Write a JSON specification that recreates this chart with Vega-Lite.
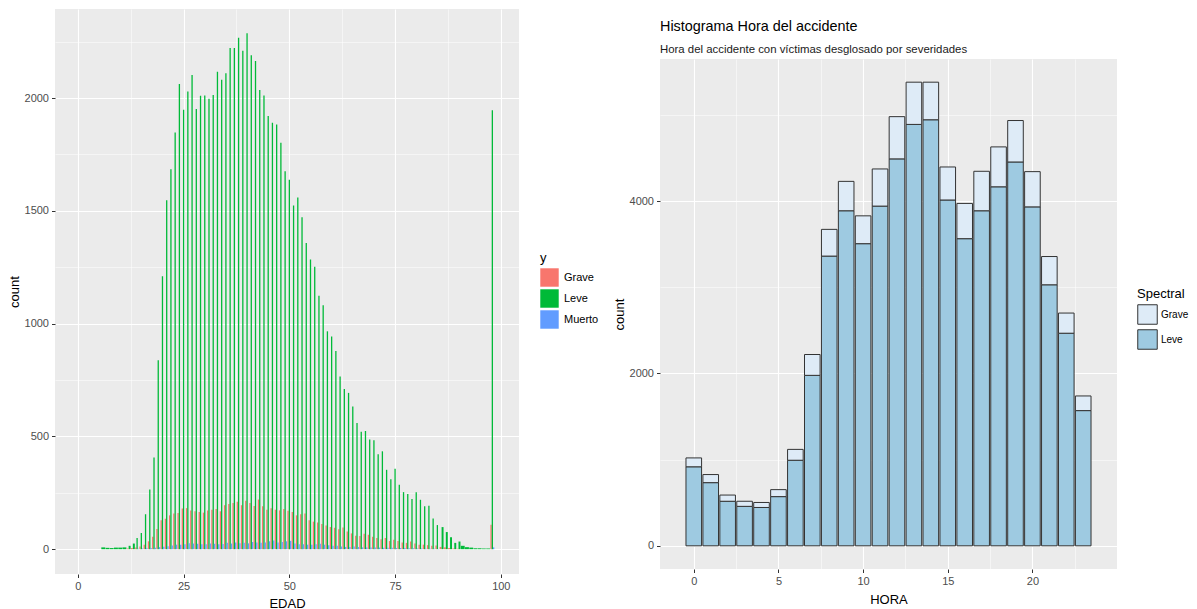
{
"$schema": "https://vega.github.io/schema/vega-lite/v6.json",
"background": "white",
"padding": {"left": 8, "top": 8, "right": 0, "bottom": 0},
"spacing": 14,
"config": {
  "font": "Liberation Sans",
  "view": {"fill": "#EBEBEB", "stroke": null},
  "axis": {"domain": false, "gridColor": "#FFFFFF", "labelColor": "#4D4D4D", "labelFontSize": 11, "titleFontSize": 13, "titleFontWeight": "normal", "titleColor": "#000000", "tickColor": "#333333", "tickSize": 3.5, "labelPadding": 3},
  "legend": {"titleFontWeight": "normal", "titleColor": "#000000", "labelColor": "#000000", "symbolType": "square", "symbolOpacity": 1},
  "title": {"fontSize": 14.4, "fontWeight": "normal", "color": "#000000", "subtitleFontSize": 11.4, "subtitleColor": "#1A1A1A", "subtitlePadding": 9, "anchor": "start", "frame": "group", "offset": 3, "lineHeight": 11}
},
"resolve": {"scale": {"color": "independent"}, "legend": {"color": "independent"}},
"datasets": {
"edad": [
{"EDAD":6,"y":"Leve","count":8},{"EDAD":7,"y":"Leve","count":6},{"EDAD":8,"y":"Leve","count":5},{"EDAD":9,"y":"Leve","count":7},{"EDAD":10,"y":"Leve","count":7},{"EDAD":11,"y":"Leve","count":8},{"EDAD":12,"y":"Leve","count":15},{"EDAD":13,"y":"Leve","count":25},{"EDAD":14,"y":"Leve","count":50},{"EDAD":15,"y":"Leve","count":72},{"EDAD":16,"y":"Leve","count":155},{"EDAD":17,"y":"Leve","count":265},{"EDAD":18,"y":"Leve","count":407},{"EDAD":19,"y":"Leve","count":838},{"EDAD":20,"y":"Leve","count":1210},{"EDAD":21,"y":"Leve","count":1547},{"EDAD":22,"y":"Leve","count":1685},{"EDAD":23,"y":"Leve","count":1848},{"EDAD":24,"y":"Leve","count":2062},{"EDAD":25,"y":"Leve","count":1948},{"EDAD":26,"y":"Leve","count":2029},{"EDAD":27,"y":"Leve","count":2102},{"EDAD":28,"y":"Leve","count":1952},{"EDAD":29,"y":"Leve","count":2010},{"EDAD":30,"y":"Leve","count":2012},{"EDAD":31,"y":"Leve","count":1997},{"EDAD":32,"y":"Leve","count":2014},{"EDAD":33,"y":"Leve","count":2117},{"EDAD":34,"y":"Leve","count":2081},{"EDAD":35,"y":"Leve","count":2110},{"EDAD":36,"y":"Leve","count":2222},{"EDAD":37,"y":"Leve","count":2222},{"EDAD":38,"y":"Leve","count":2267},{"EDAD":39,"y":"Leve","count":2210},{"EDAD":40,"y":"Leve","count":2288},{"EDAD":41,"y":"Leve","count":2190},{"EDAD":42,"y":"Leve","count":2164},{"EDAD":43,"y":"Leve","count":2036},{"EDAD":44,"y":"Leve","count":2012},{"EDAD":45,"y":"Leve","count":1921},{"EDAD":46,"y":"Leve","count":1891},{"EDAD":47,"y":"Leve","count":1883},{"EDAD":48,"y":"Leve","count":1802},{"EDAD":49,"y":"Leve","count":1676},{"EDAD":50,"y":"Leve","count":1638},{"EDAD":51,"y":"Leve","count":1524},{"EDAD":52,"y":"Leve","count":1559},{"EDAD":53,"y":"Leve","count":1472},{"EDAD":54,"y":"Leve","count":1357},{"EDAD":55,"y":"Leve","count":1284},{"EDAD":56,"y":"Leve","count":1252},{"EDAD":57,"y":"Leve","count":1124},{"EDAD":58,"y":"Leve","count":1081},{"EDAD":59,"y":"Leve","count":966},{"EDAD":60,"y":"Leve","count":943},{"EDAD":61,"y":"Leve","count":879},{"EDAD":62,"y":"Leve","count":766},{"EDAD":63,"y":"Leve","count":710},{"EDAD":64,"y":"Leve","count":693},{"EDAD":65,"y":"Leve","count":633},{"EDAD":66,"y":"Leve","count":559},{"EDAD":67,"y":"Leve","count":521},{"EDAD":68,"y":"Leve","count":524},{"EDAD":69,"y":"Leve","count":486},{"EDAD":70,"y":"Leve","count":483},{"EDAD":71,"y":"Leve","count":421},{"EDAD":72,"y":"Leve","count":434},{"EDAD":73,"y":"Leve","count":352},{"EDAD":74,"y":"Leve","count":310},{"EDAD":75,"y":"Leve","count":357},{"EDAD":76,"y":"Leve","count":286},{"EDAD":77,"y":"Leve","count":253},{"EDAD":78,"y":"Leve","count":245},{"EDAD":79,"y":"Leve","count":222},{"EDAD":80,"y":"Leve","count":253},{"EDAD":81,"y":"Leve","count":219},{"EDAD":82,"y":"Leve","count":190},{"EDAD":83,"y":"Leve","count":193},{"EDAD":84,"y":"Leve","count":136},{"EDAD":85,"y":"Leve","count":107},{"EDAD":86,"y":"Leve","count":98},{"EDAD":87,"y":"Leve","count":76},{"EDAD":88,"y":"Leve","count":53},{"EDAD":89,"y":"Leve","count":28},{"EDAD":90,"y":"Leve","count":34},{"EDAD":91,"y":"Leve","count":15},{"EDAD":92,"y":"Leve","count":9},{"EDAD":93,"y":"Leve","count":7},{"EDAD":94,"y":"Leve","count":4},{"EDAD":95,"y":"Leve","count":4},{"EDAD":96,"y":"Leve","count":3},{"EDAD":97,"y":"Leve","count":3},{"EDAD":98,"y":"Leve","count":1946},
{"EDAD":12,"y":"Grave","count":3},{"EDAD":13,"y":"Grave","count":5},{"EDAD":14,"y":"Grave","count":8},{"EDAD":15,"y":"Grave","count":12},{"EDAD":16,"y":"Grave","count":20},{"EDAD":17,"y":"Grave","count":35},{"EDAD":18,"y":"Grave","count":55},{"EDAD":19,"y":"Grave","count":90},{"EDAD":20,"y":"Grave","count":128},{"EDAD":21,"y":"Grave","count":135},{"EDAD":22,"y":"Grave","count":150},{"EDAD":23,"y":"Grave","count":158},{"EDAD":24,"y":"Grave","count":160},{"EDAD":25,"y":"Grave","count":180},{"EDAD":26,"y":"Grave","count":182},{"EDAD":27,"y":"Grave","count":172},{"EDAD":28,"y":"Grave","count":168},{"EDAD":29,"y":"Grave","count":165},{"EDAD":30,"y":"Grave","count":162},{"EDAD":31,"y":"Grave","count":172},{"EDAD":32,"y":"Grave","count":175},{"EDAD":33,"y":"Grave","count":178},{"EDAD":34,"y":"Grave","count":168},{"EDAD":35,"y":"Grave","count":195},{"EDAD":36,"y":"Grave","count":200},{"EDAD":37,"y":"Grave","count":205},{"EDAD":38,"y":"Grave","count":210},{"EDAD":39,"y":"Grave","count":195},{"EDAD":40,"y":"Grave","count":215},{"EDAD":41,"y":"Grave","count":205},{"EDAD":42,"y":"Grave","count":192},{"EDAD":43,"y":"Grave","count":220},{"EDAD":44,"y":"Grave","count":190},{"EDAD":45,"y":"Grave","count":175},{"EDAD":46,"y":"Grave","count":182},{"EDAD":47,"y":"Grave","count":175},{"EDAD":48,"y":"Grave","count":172},{"EDAD":49,"y":"Grave","count":178},{"EDAD":50,"y":"Grave","count":170},{"EDAD":51,"y":"Grave","count":165},{"EDAD":52,"y":"Grave","count":150},{"EDAD":53,"y":"Grave","count":155},{"EDAD":54,"y":"Grave","count":158},{"EDAD":55,"y":"Grave","count":128},{"EDAD":56,"y":"Grave","count":122},{"EDAD":57,"y":"Grave","count":118},{"EDAD":58,"y":"Grave","count":112},{"EDAD":59,"y":"Grave","count":105},{"EDAD":60,"y":"Grave","count":98},{"EDAD":61,"y":"Grave","count":95},{"EDAD":62,"y":"Grave","count":88},{"EDAD":63,"y":"Grave","count":96},{"EDAD":64,"y":"Grave","count":78},{"EDAD":65,"y":"Grave","count":70},{"EDAD":66,"y":"Grave","count":60},{"EDAD":67,"y":"Grave","count":58},{"EDAD":68,"y":"Grave","count":68},{"EDAD":69,"y":"Grave","count":64},{"EDAD":70,"y":"Grave","count":55},{"EDAD":71,"y":"Grave","count":50},{"EDAD":72,"y":"Grave","count":44},{"EDAD":73,"y":"Grave","count":50},{"EDAD":74,"y":"Grave","count":36},{"EDAD":75,"y":"Grave","count":42},{"EDAD":76,"y":"Grave","count":36},{"EDAD":77,"y":"Grave","count":30},{"EDAD":78,"y":"Grave","count":28},{"EDAD":79,"y":"Grave","count":34},{"EDAD":80,"y":"Grave","count":25},{"EDAD":81,"y":"Grave","count":20},{"EDAD":82,"y":"Grave","count":20},{"EDAD":83,"y":"Grave","count":18},{"EDAD":84,"y":"Grave","count":15},{"EDAD":85,"y":"Grave","count":16},{"EDAD":86,"y":"Grave","count":10},{"EDAD":87,"y":"Grave","count":8},{"EDAD":88,"y":"Grave","count":5},{"EDAD":89,"y":"Grave","count":3},{"EDAD":90,"y":"Grave","count":2},{"EDAD":98,"y":"Grave","count":108},
{"EDAD":14,"y":"Muerto","count":2},{"EDAD":15,"y":"Muerto","count":3},{"EDAD":16,"y":"Muerto","count":4},{"EDAD":17,"y":"Muerto","count":5},{"EDAD":18,"y":"Muerto","count":6},{"EDAD":19,"y":"Muerto","count":9},{"EDAD":20,"y":"Muerto","count":11},{"EDAD":21,"y":"Muerto","count":13},{"EDAD":22,"y":"Muerto","count":16},{"EDAD":23,"y":"Muerto","count":20},{"EDAD":24,"y":"Muerto","count":20},{"EDAD":25,"y":"Muerto","count":22},{"EDAD":26,"y":"Muerto","count":26},{"EDAD":27,"y":"Muerto","count":25},{"EDAD":28,"y":"Muerto","count":24},{"EDAD":29,"y":"Muerto","count":22},{"EDAD":30,"y":"Muerto","count":22},{"EDAD":31,"y":"Muerto","count":25},{"EDAD":32,"y":"Muerto","count":24},{"EDAD":33,"y":"Muerto","count":22},{"EDAD":34,"y":"Muerto","count":23},{"EDAD":35,"y":"Muerto","count":28},{"EDAD":36,"y":"Muerto","count":25},{"EDAD":37,"y":"Muerto","count":30},{"EDAD":38,"y":"Muerto","count":26},{"EDAD":39,"y":"Muerto","count":28},{"EDAD":40,"y":"Muerto","count":26},{"EDAD":41,"y":"Muerto","count":32},{"EDAD":42,"y":"Muerto","count":30},{"EDAD":43,"y":"Muerto","count":28},{"EDAD":44,"y":"Muerto","count":30},{"EDAD":45,"y":"Muerto","count":35},{"EDAD":46,"y":"Muerto","count":38},{"EDAD":47,"y":"Muerto","count":30},{"EDAD":48,"y":"Muerto","count":32},{"EDAD":49,"y":"Muerto","count":35},{"EDAD":50,"y":"Muerto","count":37},{"EDAD":51,"y":"Muerto","count":25},{"EDAD":52,"y":"Muerto","count":22},{"EDAD":53,"y":"Muerto","count":22},{"EDAD":54,"y":"Muerto","count":20},{"EDAD":55,"y":"Muerto","count":20},{"EDAD":56,"y":"Muerto","count":22},{"EDAD":57,"y":"Muerto","count":24},{"EDAD":58,"y":"Muerto","count":20},{"EDAD":59,"y":"Muerto","count":18},{"EDAD":60,"y":"Muerto","count":15},{"EDAD":61,"y":"Muerto","count":15},{"EDAD":62,"y":"Muerto","count":12},{"EDAD":63,"y":"Muerto","count":10},{"EDAD":64,"y":"Muerto","count":10},{"EDAD":65,"y":"Muerto","count":12},{"EDAD":66,"y":"Muerto","count":10},{"EDAD":67,"y":"Muerto","count":8},{"EDAD":68,"y":"Muerto","count":8},{"EDAD":69,"y":"Muerto","count":8},{"EDAD":70,"y":"Muerto","count":8},{"EDAD":71,"y":"Muerto","count":7},{"EDAD":72,"y":"Muerto","count":6},{"EDAD":73,"y":"Muerto","count":6},{"EDAD":74,"y":"Muerto","count":6},{"EDAD":75,"y":"Muerto","count":5},{"EDAD":76,"y":"Muerto","count":5},{"EDAD":77,"y":"Muerto","count":5},{"EDAD":78,"y":"Muerto","count":4},{"EDAD":79,"y":"Muerto","count":4},{"EDAD":80,"y":"Muerto","count":3},{"EDAD":81,"y":"Muerto","count":3},{"EDAD":82,"y":"Muerto","count":2},{"EDAD":83,"y":"Muerto","count":2},{"EDAD":84,"y":"Muerto","count":2},{"EDAD":85,"y":"Muerto","count":1},{"EDAD":98,"y":"Muerto","count":8}
],
"hora": [
{"HORA":0,"y":"Leve","count":917},{"HORA":0,"y":"Grave","count":103},
{"HORA":1,"y":"Leve","count":733},{"HORA":1,"y":"Grave","count":94},
{"HORA":2,"y":"Leve","count":517},{"HORA":2,"y":"Grave","count":72},
{"HORA":3,"y":"Leve","count":458},{"HORA":3,"y":"Grave","count":59},
{"HORA":4,"y":"Leve","count":445},{"HORA":4,"y":"Grave","count":58},
{"HORA":5,"y":"Leve","count":571},{"HORA":5,"y":"Grave","count":81},
{"HORA":6,"y":"Leve","count":993},{"HORA":6,"y":"Grave","count":126},
{"HORA":7,"y":"Leve","count":1978},{"HORA":7,"y":"Grave","count":242},
{"HORA":8,"y":"Leve","count":3362},{"HORA":8,"y":"Grave","count":310},
{"HORA":9,"y":"Leve","count":3888},{"HORA":9,"y":"Grave","count":341},
{"HORA":10,"y":"Leve","count":3506},{"HORA":10,"y":"Grave","count":323},
{"HORA":11,"y":"Leve","count":3942},{"HORA":11,"y":"Grave","count":431},
{"HORA":12,"y":"Leve","count":4490},{"HORA":12,"y":"Grave","count":490},
{"HORA":13,"y":"Leve","count":4890},{"HORA":13,"y":"Grave","count":490},
{"HORA":14,"y":"Leve","count":4944},{"HORA":14,"y":"Grave","count":436},
{"HORA":15,"y":"Leve","count":4013},{"HORA":15,"y":"Grave","count":383},
{"HORA":16,"y":"Leve","count":3564},{"HORA":16,"y":"Grave","count":409},
{"HORA":17,"y":"Leve","count":3888},{"HORA":17,"y":"Grave","count":458},
{"HORA":18,"y":"Leve","count":4166},{"HORA":18,"y":"Grave","count":463},
{"HORA":19,"y":"Leve","count":4454},{"HORA":19,"y":"Grave","count":481},
{"HORA":20,"y":"Leve","count":3933},{"HORA":20,"y":"Grave","count":409},
{"HORA":21,"y":"Leve","count":3029},{"HORA":21,"y":"Grave","count":328},
{"HORA":22,"y":"Leve","count":2467},{"HORA":22,"y":"Grave","count":234},
{"HORA":23,"y":"Leve","count":1569},{"HORA":23,"y":"Grave","count":170}
]
},
"hconcat": [
{
  "width": 464, "height": 565,
  "data": {"name": "edad"},
  "transform": [{"joinaggregate": [{"op": "count", "as": "n"}], "groupby": ["EDAD"]}],
  "encoding": {
    "x": {"field": "EDAD", "type": "quantitative", "scale": {"domain": [-4.23, 103.12], "nice": false},
      "axis": {"title": "EDAD", "values": [0, 12.5, 25, 37.5, 50, 62.5, 75, 87.5, 100], "format": "d",
        "labelExpr": "datum.value % 25 === 0 ? datum.label : ''",
        "tickOpacity": {"condition": {"test": "datum.value % 25 !== 0", "value": 0}, "value": 1},
        "gridWidth": {"condition": {"test": "datum.value % 25 !== 0", "value": 0.5}, "value": 1.1},
        "titlePadding": 6}},
    "y": {"field": "count", "type": "quantitative", "stack": null, "scale": {"domain": [-110, 2395], "nice": false},
      "axis": {"title": "count", "values": [0, 250, 500, 750, 1000, 1250, 1500, 1750, 2000, 2250], "format": "d",
        "labelExpr": "datum.value % 500 === 0 ? datum.label : ''",
        "tickOpacity": {"condition": {"test": "datum.value % 500 !== 0", "value": 0}, "value": 1},
        "gridWidth": {"condition": {"test": "datum.value % 500 !== 0", "value": 0.5}, "value": 1.1},
        "titlePadding": 3}},
    "color": {"field": "y", "type": "nominal", "scale": {"domain": ["Grave", "Leve", "Muerto"], "range": ["#F8766D", "#00BA38", "#619CFF"]},
      "legend": {"title": "y", "orient": "none", "legendX": 485, "legendY": 243, "symbolSize": 340, "symbolStrokeWidth": 0, "labelFontSize": 11, "titleFontSize": 13, "rowPadding": 2, "titlePadding": 3, "labelOffset": 5}}
  },
  "layer": [
    {"transform": [{"filter": "datum.n === 1"}], "mark": {"type": "bar", "width": 3.9}},
    {"transform": [{"filter": "datum.n === 2 && datum.y === 'Grave'"}], "mark": {"type": "bar", "width": 1.95, "xOffset": -0.97}},
    {"transform": [{"filter": "datum.n === 2 && datum.y === 'Leve'"}], "mark": {"type": "bar", "width": 1.95, "xOffset": 0.97}},
    {"transform": [{"filter": "datum.n === 3 && datum.y === 'Grave'"}], "mark": {"type": "bar", "width": 1.3, "xOffset": -1.3}},
    {"transform": [{"filter": "datum.n === 3 && datum.y === 'Leve'"}], "mark": {"type": "bar", "width": 1.3}},
    {"transform": [{"filter": "datum.n === 3 && datum.y === 'Muerto'"}], "mark": {"type": "bar", "width": 1.3, "xOffset": 1.3}}
  ]
},
{
 "spacing": -21,
 "vconcat": [
 {
  "width": 1, "height": 0,
  "view": {"fill": null, "stroke": null},
  "data": {"values": []},
  "mark": {"type": "point", "opacity": 0},
  "encoding": {}
 },
 {
  "width": 457, "height": 510,
  "title": {"text": ["", "Histograma Hora del accidente"], "subtitle": "Hora del accidente con víctimas desglosado por severidades"},
  "data": {"name": "hora"},
  "mark": {"type": "bar", "width": 15.6, "stroke": "#333333", "strokeWidth": 1},
  "encoding": {
    "x": {"field": "HORA", "type": "quantitative", "scale": {"domain": [-1.7, 24.7], "nice": false},
      "axis": {"title": "HORA", "values": [0, 2.5, 5, 7.5, 10, 12.5, 15, 17.5, 20, 22.5], "format": "d",
        "labelExpr": "datum.value % 5 === 0 ? datum.label : ''",
        "tickOpacity": {"condition": {"test": "datum.value % 5 !== 0", "value": 0}, "value": 1},
        "gridWidth": {"condition": {"test": "datum.value % 5 !== 0", "value": 0.5}, "value": 1.1},
        "titlePadding": 7}},
    "y": {"field": "count", "type": "quantitative", "stack": "zero", "scale": {"domain": [-269, 5649], "nice": false},
      "axis": {"title": "count", "values": [0, 1000, 2000, 3000, 4000, 5000], "format": "d",
        "labelExpr": "datum.value % 2000 === 0 ? datum.label : ''",
        "tickOpacity": {"condition": {"test": "datum.value % 2000 !== 0", "value": 0}, "value": 1},
        "gridWidth": {"condition": {"test": "datum.value % 2000 !== 0", "value": 0.5}, "value": 1.1},
        "titlePadding": 3}},
    "color": {"field": "y", "type": "nominal", "scale": {"domain": ["Grave", "Leve"], "range": ["#DEEBF7", "#9ECAE1"]},
      "legend": {"title": "Spectral", "orient": "none", "legendX": 477, "legendY": 279, "symbolSize": 380, "symbolStrokeColor": "#333333", "symbolStrokeWidth": 1, "labelFontSize": 10, "titleFontSize": 13, "rowPadding": 0, "titlePadding": 3, "labelOffset": 3}},
    "order": {"field": "y", "sort": "descending"}
  }
 }
 ]
}
]
}
